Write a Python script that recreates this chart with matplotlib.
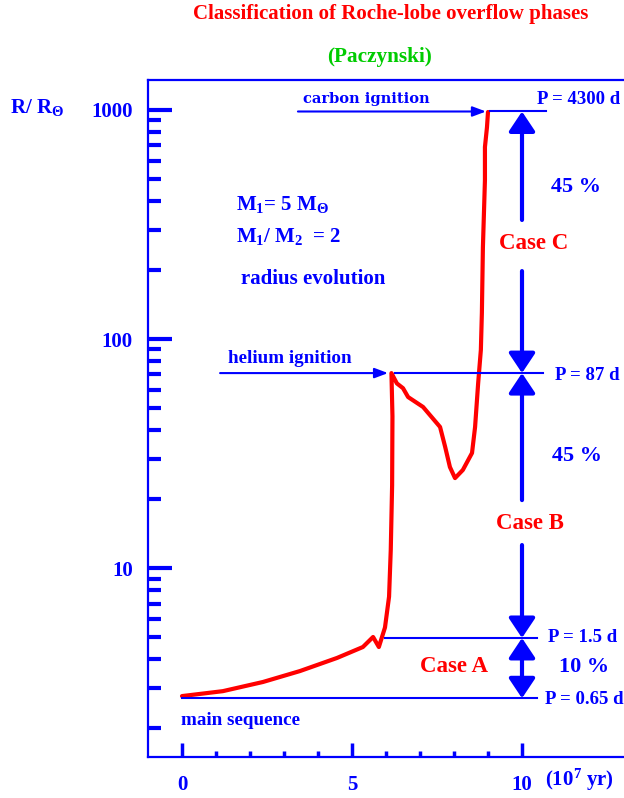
import matplotlib
matplotlib.use("Agg")
import matplotlib.pyplot as plt
from matplotlib.patches import FancyArrowPatch
from matplotlib.ticker import NullFormatter

# fonts: Times-like bold serif everywhere
plt.rcParams['font.family'] = 'Liberation Serif'
plt.rcParams['font.weight'] = 'bold'
plt.rcParams['mathtext.fontset'] = 'custom'
plt.rcParams['mathtext.rm'] = 'Liberation Serif:bold'
plt.rcParams['mathtext.it'] = 'Liberation Serif:bold'
plt.rcParams['mathtext.bf'] = 'Liberation Serif:bold'

BLUE = '#0000ff'
RED = '#ff0000'
GREEN = '#00cc00'

# radius evolution of the primary (time in 1e7 yr, radius in R_sun)
t = [0, 1.2, 2.38, 3.47, 4.56, 5.32, 5.62, 5.79, 5.97, 6.09, 6.14, 6.18, 6.19, 6.16,
     6.32, 6.5, 6.65, 7.09, 7.59, 7.74, 7.88, 8.03, 8.26, 8.53, 8.62, 8.71, 8.79,
     8.82, 8.85, 8.91, 8.91, 8.97, 9.0]
r = [2.76, 2.90, 3.18, 3.55, 4.05, 4.52, 5.0, 4.52, 5.5, 7.5, 12, 23, 46, 71,
     64, 61, 55.8, 50.5, 41.3, 33.8, 27.6, 24.7, 26.8, 31.8, 41.3, 64, 89.6,
     130, 251, 494, 689, 841, 980]

# critical radii for the orbital periods
periods = ['P = 0.65 d', 'P = 1.5 d', 'P = 87 d', 'P = 4300 d']
r_crit = [2.70, 4.95, 71, 985]
percent = ['10 %', '45 %', '45 %']
cases = ['Case A', 'Case B', 'Case C']

fig = plt.figure(figsize=(6.24, 7.98), dpi=100)
ax = fig.add_axes([148 / 624, 1 - 757 / 798, (658 - 148) / 624, (757 - 80) / 798])
ax.set_yscale('log')
ax.set_xlim(-1, 14)
ax.set_ylim(1.496, 1352)

for s in ['left', 'bottom', 'top', 'right']:
    ax.spines[s].set_color(BLUE)
    ax.spines[s].set_linewidth(1.6)

ax.set_yticks([10, 100, 1000])
ax.set_yticklabels(['10', '100', '1000'])
ax.set_yticks([m * d for d in [1, 10, 100] for m in range(2, 10)], minor=True)
ax.yaxis.set_minor_formatter(NullFormatter())
ax.set_xticks([0, 5, 10])
ax.set_xticklabels(['0', '5', '10'])
ax.set_xticks([1, 2, 3, 4, 6, 7, 8, 9], minor=True)
ax.tick_params(which='both', direction='in', colors=BLUE, labelsize=15,
               top=False, right=False)
ax.tick_params(axis='y', which='major', length=17, width=3, pad=11)
ax.tick_params(axis='y', which='minor', length=9.5, width=3)
ax.tick_params(axis='x', which='major', length=10, width=2.5, pad=13)
ax.tick_params(axis='x', which='minor', length=4.5, width=2.5)

# the radius track
ax.plot(t, r, color=RED, lw=3, solid_joinstyle='round', solid_capstyle='round')


def arrow(x0, y0, x1, y1, style, hl, hw, lw):
    ax.add_patch(FancyArrowPatch((x0, y0), (x1, y1),
                                 arrowstyle=f'{style},head_length={hl},head_width={hw}',
                                 mutation_scale=1, lw=lw, color=BLUE,
                                 shrinkA=0, shrinkB=0))


# period levels
ax.plot([0, 10.44], [r_crit[0]] * 2, color=BLUE, lw=1.5)
ax.plot([5.97, 10.44], [r_crit[1]] * 2, color=BLUE, lw=1.5)
ax.plot([6.26, 10.62], [r_crit[2]] * 2, color=BLUE, lw=1.5)
ax.plot([9.06, 10.7], [r_crit[3]] * 2, color=BLUE, lw=1.5)
arrow(1.12, r_crit[2], 6.06, r_crit[2], '-|>', 8, 3, 1.5)
arrow(3.41, r_crit[3], 8.94, r_crit[3], '-|>', 8, 3, 1.5)

label_x = [10.68, 10.76, 10.97, 10.44]
label_y = [2.68, 4.95, 69.6, 1110]
for txt, lx, ly in zip(periods, label_x, label_y):
    ax.text(lx, ly, txt, color=BLUE, fontsize=13.5, ha='left', va='center')

# vertical range arrows at t = 10
arrow(10, r_crit[0], 10, r_crit[1], '<|-|>', 12, 8, 3)
arrow(10, 19.8, 10, r_crit[2], '-|>', 12, 8, 3)
arrow(10, 12.6, 10, r_crit[1], '-|>', 12, 8, 3)
arrow(10, 331, 10, r_crit[3], '-|>', 12, 8, 3)
arrow(10, 198, 10, r_crit[2], '-|>', 12, 8, 3)

case_x = [8.0, 10.24, 10.35]
case_y = [3.70, 15.7, 260]
for txt, cx, cy in zip(cases, case_x, case_y):
    ax.text(cx, cy, txt, color=RED, fontsize=16.5, ha='center', va='center')
pct_x = [11.82, 11.62, 11.59]
pct_y = [3.70, 30.8, 461]
for txt, px, py in zip(percent, pct_x, pct_y):
    ax.text(px, py, txt, color=BLUE, fontsize=16, ha='center', va='center')

ax.text(1.35, 82.6, 'helium ignition', color=BLUE, fontsize=13.8, ha='left', va='center')
ax.text(3.56, 1117, 'carbon ignition', color=BLUE, fontsize=10.5, ha='left', va='center',
        family='DejaVu Serif')
ax.text(-0.03, 2.15, 'main sequence', color=BLUE, fontsize=13.8, ha='left', va='center')
ax.text(1.59, 385, r'M$_1$= 5 M$_\Theta$', color=BLUE, fontsize=15, ha='left', va='center')
ax.text(1.59, 279, r'M$_1$/ M$_2$  = 2', color=BLUE, fontsize=15, ha='left', va='center')
ax.text(3.87, 183, 'radius evolution', color=BLUE, fontsize=15, ha='center', va='center')

fig.text(391 / 624, 1 - 14 / 798, 'Classification of Roche-lobe overflow phases',
         color=RED, fontsize=15, ha='center', va='center')
fig.text(380 / 624, 1 - 57 / 798, '(Paczynski)', color=GREEN, fontsize=15.3,
         ha='center', va='center')
fig.text(10 / 624, 1 - 107 / 798, r'R/ R$_\Theta$', color=BLUE, fontsize=15,
         ha='left', va='center')
fig.text(545 / 624, 1 - 780 / 798, r'(10$^7$ yr)', color=BLUE, fontsize=15,
         ha='left', va='center')

fig.savefig('out.png', dpi=100)
